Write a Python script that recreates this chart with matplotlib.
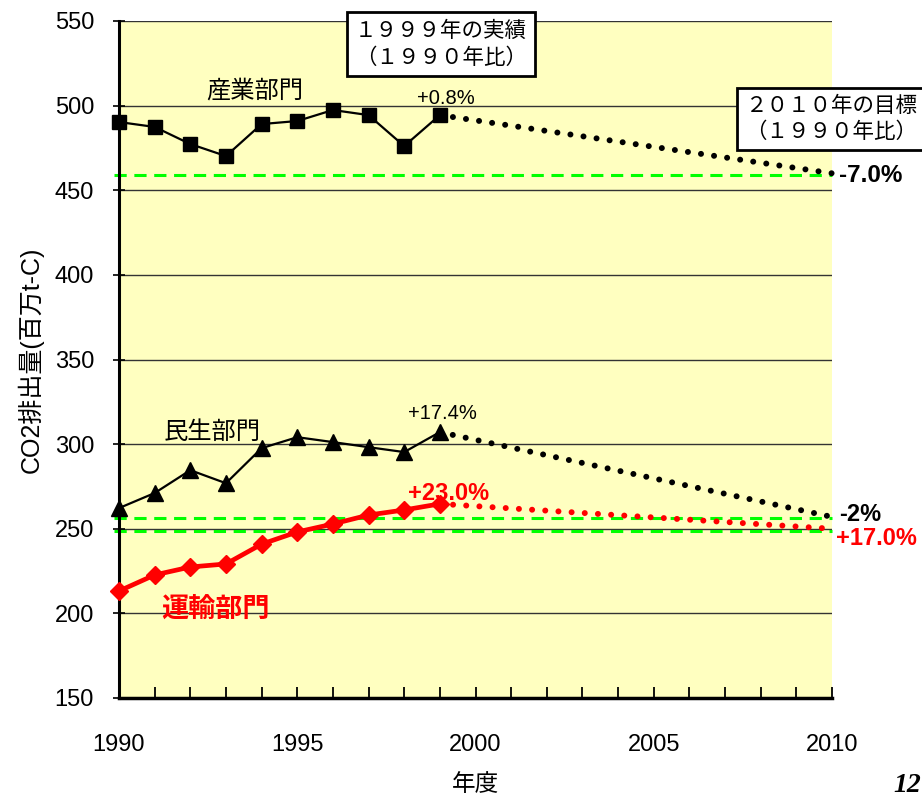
import numpy as np
import matplotlib
matplotlib.use("Agg")
import matplotlib.pyplot as plt

plt.rcParams['font.family'] = ['Liberation Sans', 'Noto Sans CJK JP', 'DejaVu Sans']

years = [1990, 1991, 1992, 1993, 1994, 1995, 1996, 1997, 1998, 1999]
sangyo = [490.3, 487.4, 477.3, 470.2, 489.1, 490.9, 497.4, 494.4, 476.1, 494.4]
minsei = [262.2, 271.1, 284.6, 276.9, 297.6, 304.1, 301.2, 298.2, 295.3, 307.1]
unyu = [213.2, 222.7, 227.4, 229.2, 240.9, 248.1, 252.8, 258.1, 261.1, 264.7]

# 2010 targets
target_year = 2010
sangyo_2010 = 460.0
minsei_2010 = 257.0
unyu_2010 = 250.0
green_levels = [459.0, 256.4, 248.7]

jp = ['Noto Sans CJK JP']

fig = plt.figure(figsize=(9.22, 7.94), dpi=100)
ax = fig.add_axes([119 / 922, 1 - 698 / 794, (832 - 119) / 922, (698 - 21) / 794])
ax.set_facecolor('#FFFFC0')
ax.set_xlim(1990, 2010)
ax.set_ylim(150, 550)

ax.set_yticks(np.arange(150, 551, 50))
ax.grid(axis='y', color='#333333', lw=1.0)
ax.set_axisbelow(True)
for s in ['top', 'right']:
    ax.spines[s].set_visible(False)
ax.spines['left'].set_linewidth(2.2)
ax.spines['bottom'].set_linewidth(2.5)

ax.set_xticks([1990, 1995, 2000, 2005, 2010])
ax.set_xticks(np.arange(1990, 2011, 1), minor=True)
ax.tick_params(axis='x', which='both', direction='in', length=8, width=1.3, pad=26, labelsize=17)
ax.tick_params(axis='y', direction='inout', length=8, width=1.2, pad=14, labelsize=17)
ax.set_xlabel('年度', fontsize=17, labelpad=12, family=jp)
ax.set_ylabel('CO2排出量(百万t-C)', fontsize=18, labelpad=8)

# green target lines
for lv in green_levels:
    ax.plot([1989.85, 2010], [lv, lv], color='#00FF00', lw=2.2, ls=(0, (4, 2.5)), clip_on=False, zorder=2)

# projections to 2010
dots = dict(lw=4.3, ls=(0, (0.01, 2.2)), dash_capstyle='round', zorder=3, clip_on=False)
ax.plot([years[-1], target_year], [sangyo[-1], sangyo_2010], color='black', **dots)
ax.plot([years[-1], target_year], [minsei[-1], minsei_2010], color='black', **dots)
ax.plot([years[-1], target_year], [unyu[-1], unyu_2010], color='red', **dots)

ax.plot(years, sangyo, color='black', lw=1.6, marker='s', ms=10, zorder=4, clip_on=False)
ax.plot(years, minsei, color='black', lw=1.6, marker='^', ms=11, zorder=4, clip_on=False)
ax.plot(years, unyu, color='red', lw=3.4, marker='D', ms=9, zorder=4, clip_on=False)

# sector labels
ax.text(1993.8, 509, '産業部門', fontsize=17.5, ha='center', va='center', family=jp)
ax.text(1992.6, 307, '民生部門', fontsize=17.5, ha='center', va='center', family=jp)
ax.text(1992.7, 203, '運輸部門', fontsize=19.5, ha='center', va='center', color='red', weight='bold',
        family=jp)

# 1999 change labels
ax.text(1998.35, 504, '+0.8%', fontsize=14.5, ha='left', va='center')
ax.text(1998.1, 318, '+17.4%', fontsize=14.5, ha='left', va='center')
ax.text(1998.1, 271, '+23.0%', fontsize=17, ha='left', va='center', color='red', weight='bold')

# 2010 labels
ax.text(2010.2, sangyo_2010 - 1, '-7.0%', fontsize=17.5, ha='left', va='center', weight='bold',
        clip_on=False)
ax.text(2010.2, minsei_2010 + 1.5, '-2%', fontsize=17, ha='left', va='center', weight='bold',
        clip_on=False)
ax.text(2010.12, unyu_2010 - 5.5, '+17.0%', fontsize=17, ha='left', va='center', weight='bold',
        color='red', clip_on=False)

box = dict(boxstyle='square,pad=0.35', fc='white', ec='black', lw=2)
fig.text(441 / 922, 1 - 44 / 794, '１９９９年の実績\n（１９９０年比）', fontsize=15.5, ha='center', va='center',
         linespacing=1.3, bbox=box, family=jp, zorder=10)
fig.text(831 / 922, 1 - 119 / 794, '２０１０年の目標\n（１９９０年比）', fontsize=15.5, ha='center', va='center',
         linespacing=1.2, bbox=box, family=jp, zorder=10)

fig.text(893 / 922, -4 / 794, '12', fontsize=20, weight='bold', style='italic', family=['Liberation Serif'],
         ha='left', va='bottom')

fig.savefig('out.png', dpi=100)
